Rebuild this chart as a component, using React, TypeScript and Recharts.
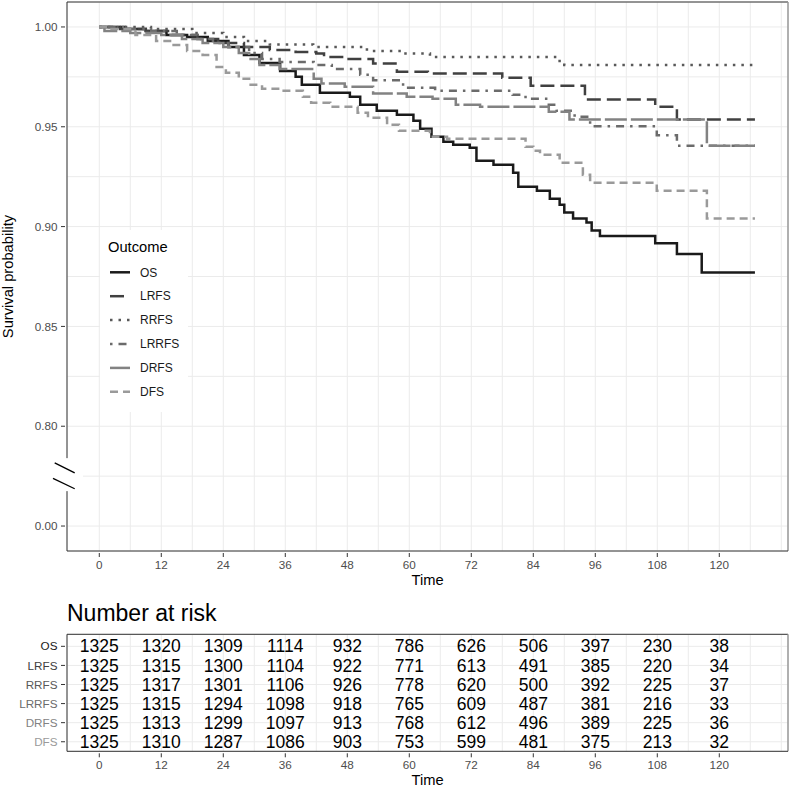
import React from 'react';
import {
    LineChart, Line, XAxis, YAxis, CartesianGrid, Legend, ReferenceLine,
    ScatterChart, Scatter,
} from 'recharts';

const FONT = '"Liberation Sans", Arial, Helvetica, sans-serif';

// Kaplan-Meier steps: time in months, survival after the step
const OS_T = [0, 5, 9, 13, 17, 21, 25, 28, 31, 35, 38, 39.2, 42.7, 48.5, 50.5, 53.7, 57.6, 60.8, 62.1, 64.3, 66.6, 68.5, 71.7, 73, 76.3, 80.1, 81.1, 84.7, 87.2, 89.1, 90, 91.7, 94.3, 95.3, 96.9, 107.6, 111.8, 116.6, 126.9];
const OS_S = [1, 0.999, 0.998, 0.996, 0.995, 0.993, 0.99, 0.986, 0.982, 0.978, 0.975, 0.971, 0.967, 0.965, 0.961, 0.958, 0.956, 0.953, 0.949, 0.945, 0.9425, 0.941, 0.9395, 0.933, 0.931, 0.927, 0.92, 0.918, 0.914, 0.911, 0.907, 0.904, 0.902, 0.898, 0.8953, 0.8917, 0.8863, 0.877, 0.877];

const LRFS_T = [0, 4, 9, 14, 19, 23, 28, 33, 38, 42, 43.5, 47.5, 53, 57.6, 63.6, 78, 83.5, 94, 107.6, 111.8, 126.9];
const LRFS_S = [1, 0.999, 0.998, 0.996, 0.994, 0.992, 0.99, 0.9885, 0.9875, 0.9867, 0.985, 0.984, 0.9817, 0.9775, 0.9767, 0.9745, 0.9705, 0.9637, 0.96, 0.9537, 0.9537];

const RRFS_T = [0, 10, 18, 24, 28, 33, 41.4, 51.8, 58.8, 64, 88.5, 90, 126.9];
const RRFS_S = [1, 0.999, 0.997, 0.995, 0.993, 0.9912, 0.99, 0.988, 0.9867, 0.985, 0.983, 0.981, 0.981];

const LRRFS_T = [0, 5, 10, 15, 19, 22, 25, 29, 31.5, 34.9, 41.5, 45, 50.5, 53, 58.8, 65, 80, 82.5, 87, 88.5, 92, 95, 107.9, 111.8, 126.9];
const LRRFS_S = [1, 0.999, 0.998, 0.996, 0.994, 0.992, 0.99, 0.987, 0.984, 0.9825, 0.981, 0.979, 0.976, 0.9733, 0.9695, 0.968, 0.966, 0.964, 0.961, 0.958, 0.955, 0.9503, 0.9458, 0.9405, 0.9405];

const DRFS_T = [0, 1, 6, 12, 16, 20, 24, 27, 29, 31, 34.9, 41.5, 43, 47.5, 53, 59.5, 64.5, 69, 73.7, 87, 91, 117.6, 126.9];
const DRFS_S = [1, 0.998, 0.997, 0.996, 0.994, 0.992, 0.99, 0.987, 0.984, 0.981, 0.979, 0.974, 0.9717, 0.97, 0.9667, 0.965, 0.964, 0.961, 0.96, 0.9575, 0.9537, 0.9405, 0.9405];

const DFS_T = [0, 2, 7, 11, 14, 17, 20, 22.7, 24.5, 27, 29, 31.5, 35, 39.4, 41, 44.7, 50, 52, 55.7, 58, 64, 67.3, 82.5, 84, 85.3, 89.1, 93.6, 95, 107.9, 117.6, 126.9];
const DFS_S = [1, 0.999, 0.996, 0.993, 0.991, 0.988, 0.986, 0.98, 0.977, 0.974, 0.971, 0.969, 0.968, 0.965, 0.962, 0.96, 0.957, 0.9545, 0.951, 0.948, 0.945, 0.944, 0.94, 0.938, 0.936, 0.932, 0.926, 0.922, 0.918, 0.904, 0.904];

const OUTCOMES = ['OS', 'LRFS', 'RRFS', 'LRRFS', 'DRFS', 'DFS'];
const COLORS = ['#1A1A1A', '#404040', '#595959', '#6B6B6B', '#828282', '#9A9A9A'];
const DASHES = [undefined, '14 6', '2.5 6', '2.5 6 8 6', '22 4', '8 5'];

// number at risk
const RISK_TIMES = [0, 12, 24, 36, 48, 60, 72, 84, 96, 108, 120];
const RISK_OS = [1325, 1320, 1309, 1114, 932, 786, 626, 506, 397, 230, 38];
const RISK_LRFS = [1325, 1315, 1300, 1104, 922, 771, 613, 491, 385, 220, 34];
const RISK_RRFS = [1325, 1317, 1301, 1106, 926, 778, 620, 500, 392, 225, 37];
const RISK_LRRFS = [1325, 1315, 1294, 1098, 918, 765, 609, 487, 381, 216, 33];
const RISK_DRFS = [1325, 1313, 1299, 1097, 913, 768, 612, 496, 389, 225, 36];
const RISK_DFS = [1325, 1310, 1287, 1086, 903, 753, 599, 481, 375, 213, 32];

const X_TICKS = [0, 6, 12, 18, 24, 30, 36, 42, 48, 54, 60, 66, 72, 78, 84, 90, 96, 102, 108, 114, 120, 126, 132];
const X_LABELS = [0, 12, 24, 36, 48, 60, 72, 84, 96, 108, 120];
const X_DOMAIN = [-6.25, 133.3];

// 0.75 stands in for 0.00 below the axis break
const Y_TICKS = [0.75, 0.775, 0.8, 0.825, 0.85, 0.875, 0.9, 0.925, 0.95, 0.975, 1];
const Y_LABELS = [0.75, 0.8, 0.85, 0.9, 0.95, 1];
const Y_BREAK = 0.775;
const Y_DOMAIN = [0.7375, 1.0125];

const curves = [
    [OS_T, OS_S], [LRFS_T, LRFS_S], [RRFS_T, RRFS_S],
    [LRRFS_T, LRRFS_S], [DRFS_T, DRFS_S], [DFS_T, DFS_S],
].map(([t, s]) => t.map((x, i) => ({ t: x, s: s[i] })));

const riskRows = [RISK_OS, RISK_LRFS, RISK_RRFS, RISK_LRRFS, RISK_DRFS, RISK_DFS];
const riskPoints = riskRows.flatMap((row, r) =>
    row.map((n, i) => ({ t: RISK_TIMES[i], row: OUTCOMES.length - r, n })));

const XTick = (props: any) => {
    const { x, y, payload } = props;
    if (!X_LABELS.includes(payload.value)) return <g />;
    return (
        <g>
            <line x1={x} x2={x} y1={y} y2={y + 4} stroke="#333" />
            <text x={x} y={y + 16} textAnchor="middle" fontSize={11.7} fill="#4D4D4D" fontFamily={FONT}>
                {payload.value}
            </text>
        </g>
    );
};

const YTick = (props: any) => {
    const { x, y, payload } = props;
    const v = payload.value;
    if (v === Y_BREAK) {
        return (
            <g>
                <rect x={x - 9} y={y - 18} width={27} height={33} fill="#fff" />
                <line x1={x - 10.3} y1={y - 13.3} x2={x + 9.7} y2={y - 3.3} stroke="#000" strokeWidth={1.3} />
                <line x1={x - 12} y1={y + 2.3} x2={x + 9.7} y2={y + 12.6} stroke="#000" strokeWidth={1.3} />
            </g>
        );
    }
    if (!Y_LABELS.includes(v)) return <g />;
    return (
        <g>
            <line x1={x - 4} x2={x} y1={y} y2={y} stroke="#333" />
            <text x={x - 7.5} y={y} dy="0.35em" textAnchor="end" fontSize={11.7} fill="#4D4D4D" fontFamily={FONT}>
                {v === 0.75 ? '0.00' : v.toFixed(2)}
            </text>
        </g>
    );
};

const RiskTick = (props: any) => {
    const { x, y, payload } = props;
    const r = OUTCOMES.length - payload.value;
    return (
        <g>
            <line x1={x - 4} x2={x} y1={y} y2={y} stroke="#333" />
            <text x={x - 7.5} y={y} dy="0.35em" textAnchor="end" fontSize={11.7} fill={COLORS[r]} fontFamily={FONT}>
                {OUTCOMES[r]}
            </text>
        </g>
    );
};

const RiskCell = (props: any) => {
    const { cx, cy } = props;
    const n = props.payload ? props.payload.n : props.n;
    return (
        <text x={cx} y={cy} dy="0.35em" textAnchor="middle" fontSize={17.5} fill="#000" fontFamily={FONT}>
            {n}
        </text>
    );
};

const YTitle = (props: any) => {
    const vb = props.viewBox;
    const cx = 13;
    const cy = vb.y + vb.height / 2;
    return (
        <text x={cx} y={cy} textAnchor="middle" fontSize={14.7} fill="#000" fontFamily={FONT}
              transform={`rotate(-90, ${cx}, ${cy})`}>
            Survival probability
        </text>
    );
};

const renderLegend = () => (
    <svg width={88} height={182} style={{ display: 'block', background: '#fff' }}>
        <text x={8} y={21.7} fontSize={14.7} fill="#000" fontFamily={FONT}>Outcome</text>
        {OUTCOMES.map((name, i) => (
            <g key={name}>
                <line x1={10} x2={30} y1={42.3 + i * 23.9} y2={42.3 + i * 23.9}
                      stroke={COLORS[i]} strokeWidth={2.5} strokeDasharray={DASHES[i]} />
                <text x={40} y={42.3 + i * 23.9} dy="0.35em" fontSize={12} fill="#1A1A1A" fontFamily={FONT}>
                    {name}
                </text>
            </g>
        ))}
    </svg>
);

const App: React.FC = () => {
    return (
        <div style={{ position: 'absolute', left: 0, top: 0, width: 790, height: 787, background: '#fff', fontFamily: FONT }}>
            <div style={{ position: 'absolute', left: 0, top: 0 }}>
                <LineChart width={790} height={592} margin={{ top: 2, right: 2, bottom: 0, left: 0 }}>
                    <CartesianGrid stroke="#EBEBEB" />
                    <XAxis type="number" dataKey="t" domain={X_DOMAIN} ticks={X_TICKS} interval={0}
                           tick={XTick} tickSize={0} tickLine={false} stroke="#333" height={41} allowDataOverflow
                           label={{ value: 'Time', position: 'insideBottom', offset: 7, fontSize: 14.7, fill: '#000', fontFamily: FONT }} />
                    <YAxis type="number" domain={Y_DOMAIN} ticks={Y_TICKS} interval={0}
                           tick={YTick} tickSize={0} tickLine={false} stroke="#333" width={67} allowDataOverflow
                           label={{ content: YTitle }} />
                    <ReferenceLine y={Y_DOMAIN[1]} stroke="#333" />
                    <ReferenceLine x={X_DOMAIN[1]} stroke="#999" strokeWidth={1.5} />
                    {curves.map((data, i) => (
                        <Line key={OUTCOMES[i]} name={OUTCOMES[i]} data={data} dataKey="s" type="stepAfter"
                              stroke={COLORS[i]} strokeWidth={2.5} strokeDasharray={DASHES[i]}
                              dot={false} activeDot={false} isAnimationActive={false} />
                    ))}
                    <Legend layout="vertical" align="center" verticalAlign="middle" content={renderLegend}
                            wrapperStyle={{ left: 100, top: 230, width: 88, height: 182 }} />
                </LineChart>
            </div>
            <svg style={{ position: 'absolute', left: 0, top: 592 }} width={790} height={40}>
                <text x={67} y={29} fontSize={23} fill="#000" fontFamily={FONT}>Number at risk</text>
            </svg>
            <div style={{ position: 'absolute', left: 0, top: 592 }}>
                <ScatterChart width={790} height={195} margin={{ top: 42.3, right: 2, bottom: 0, left: 0 }}>
                    <CartesianGrid stroke="#EBEBEB" />
                    <XAxis type="number" dataKey="t" domain={X_DOMAIN} ticks={X_TICKS} interval={0}
                           tick={XTick} tickSize={0} tickLine={false} stroke="#333" height={35.7} allowDataOverflow
                           label={{ value: 'Time', position: 'insideBottom', offset: 2, fontSize: 14.7, fill: '#000', fontFamily: FONT }} />
                    <YAxis type="number" dataKey="row" domain={[0.5, 6.63]} ticks={[1, 2, 3, 4, 5, 6]} interval={0}
                           tick={RiskTick} tickSize={0} tickLine={false} stroke="#333" width={67} allowDataOverflow />
                    <ReferenceLine y={6.63} stroke="#333" />
                    <ReferenceLine x={X_DOMAIN[1]} stroke="#999" strokeWidth={1.5} />
                    <Scatter data={riskPoints} shape={RiskCell} isAnimationActive={false} />
                </ScatterChart>
            </div>
        </div>
    );
};

export default App;
